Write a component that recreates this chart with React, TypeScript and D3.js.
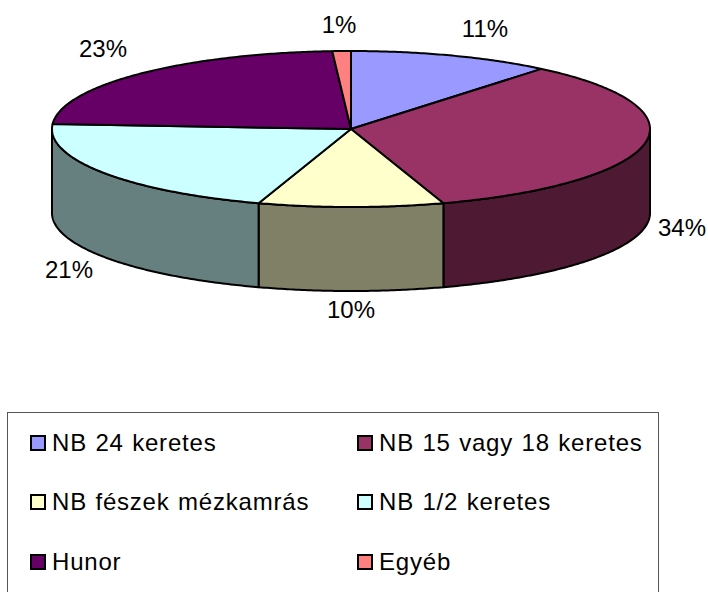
import React from 'react'
import * as d3 from 'd3'

const categories = ['NB 24 keretes', 'NB 15 vagy 18 keretes', 'NB fészek mézkamrás', 'NB 1/2 keretes', 'Hunor', 'Egyéb']
const values = [11, 34, 10, 21, 23, 1]
const colors = ['#9999ff', '#993366', '#ffffcc', '#ccffff', '#660066', '#ff8080']
const sideColors = ['#4d4d80', '#4d1933', '#808066', '#668080', '#330033', '#804040']

const width = 708
const height = 592
const depth = 84
const font = '"Liberation Sans", Arial, sans-serif'

// flat projection of the unit circle, angle 0 at the top, clockwise
const px = d3.scaleLinear().domain([-1, 1]).range([52, 650])
const py = d3.scaleLinear().domain([-1, 1]).range([51, 207])
const pointAt = (a: number, dy = 0): [number, number] => [px(Math.sin(a)), py(-Math.cos(a)) + dy]

const samples = (a0: number, a1: number) => {
  const n = Math.max(2, Math.ceil((a1 - a0) / 0.01))
  return d3.range(n + 1).map(i => a0 + ((a1 - a0) * i) / n)
}

const line = d3.line()
const slices = d3.pie<number>().sort(null).startAngle(0).endAngle(2 * Math.PI)(values)

// labels sit at fixed spots around the pie, as in the source
const labelSpots = [
  [485, 37],
  [682, 236],
  [351, 318],
  [69, 278],
  [103, 57],
  [339, 33],
]

const legendRows = [451, 510, 570]
const legendCols = [30, 357]

export default function App() {
  return (
    <svg width={width} height={height} style={{ position: 'absolute', left: 0, top: 0, background: '#fff' }}>
      {/* side wall, only the front half shows */}
      {slices.map((s, i) => {
        const a0 = Math.max(s.startAngle, Math.PI / 2)
        const a1 = Math.min(s.endAngle, (3 * Math.PI) / 2)
        if (a1 <= a0) return null
        const top = samples(a0, a1).map(a => pointAt(a))
        const bottom = samples(a0, a1).reverse().map(a => pointAt(a, depth))
        return (
          <path key={i} d={line([...top, ...bottom])! + 'Z'} fill={sideColors[i]} stroke="#000" strokeWidth={2} strokeLinejoin="round" />
        )
      })}
      {slices.map((s, i) => {
        const rim = samples(s.startAngle, s.endAngle).map(a => pointAt(a))
        return (
          <path key={i} d={line([[px(0), py(0)], ...rim])! + 'Z'} fill={colors[i]} stroke="#000" strokeWidth={2} strokeLinejoin="round" />
        )
      })}
      {values.map((v, i) => (
        <text key={i} x={labelSpots[i][0]} y={labelSpots[i][1]} textAnchor="middle" fontFamily={font} fontSize={24} fill="#000">
          {v}%
        </text>
      ))}
      {/* the frame runs past the bottom of the image */}
      <rect x={7.5} y={412.5} width={651} height={190} fill="none" stroke="#555" strokeWidth={1} />
      {categories.map((c, i) => {
        const x = legendCols[i % 2]
        const y = legendRows[Math.floor(i / 2)]
        return (
          <g key={c}>
            <rect x={x + 1} y={y - 15} width={14} height={14} fill={colors[i]} stroke="#000" strokeWidth={2} />
            <text x={x + 22} y={y} fontFamily={font} fontSize={24} letterSpacing={0.8} wordSpacing={1} fill="#000">
              {c}
            </text>
          </g>
        )
      })}
    </svg>
  )
}
